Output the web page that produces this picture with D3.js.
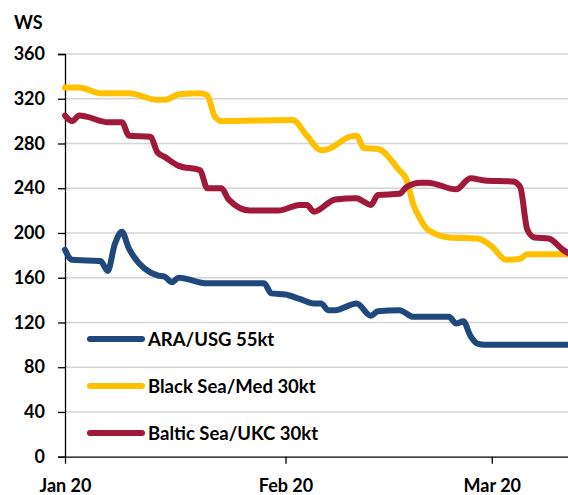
<!DOCTYPE html>
<html>
<head>
<meta charset="utf-8">
<script src="https://d3js.org/d3.v7.min.js"></script>
<style>
  body { margin: 0; background: #fff; }
  text { font-family: Lato, "Open Sans", sans-serif; fill: #000; }
</style>
</head>
<body>
<script>
// series names, in legend order
var seriesNames = ["ARA/USG 55kt", "Black Sea/Med 30kt", "Baltic Sea/UKC 30kt"];
var seriesColors = ["#1f497d", "#ffc000", "#a0193a"];

// ARA/USG 55kt
var araDates = ["2020-01-01","2020-01-02","2020-01-06","2020-01-07","2020-01-08","2020-01-09","2020-01-10",
  "2020-01-14","2020-01-15","2020-01-16","2020-01-17","2020-01-21","2020-01-29","2020-01-30","2020-02-01",
  "2020-02-03","2020-02-05","2020-02-06","2020-02-07","2020-02-08","2020-02-11","2020-02-13","2020-02-14",
  "2020-02-17","2020-02-19","2020-02-24","2020-02-25","2020-02-26","2020-02-27","2020-02-28","2020-02-29","2020-03-12"];
var araValues = [185, 176, 175, 166, 190, 201, 186,
  162, 161, 156, 160, 155, 155, 146, 145,
  141, 137, 137, 131, 131, 137, 126, 130,
  131, 125, 125, 119, 121, 108, 101, 100, 100];

// Black Sea/Med 30kt
var bsDates = ["2020-01-01","2020-01-03","2020-01-06","2020-01-10","2020-01-14","2020-01-15","2020-01-17",
  "2020-01-20","2020-01-21","2020-01-22","2020-01-23","2020-02-02","2020-02-04","2020-02-06","2020-02-07",
  "2020-02-10","2020-02-11","2020-02-12","2020-02-14","2020-02-17","2020-02-18","2020-02-19","2020-02-20",
  "2020-02-21","2020-02-24","2020-02-28","2020-03-01","2020-03-03","2020-03-05","2020-03-06","2020-03-12"];
var bsValues = [330, 330, 325, 325, 319, 319, 324,
  325, 323, 305, 300, 301, 287, 274, 275,
  286, 287, 276, 275, 256, 248, 225, 212,
  203, 196, 195, 188, 176, 177, 181, 181];

// Baltic Sea/UKC 30kt
var bltDates = ["2020-01-01","2020-01-02","2020-01-03","2020-01-04","2020-01-07","2020-01-09","2020-01-10",
  "2020-01-13","2020-01-14","2020-01-15","2020-01-17","2020-01-20","2020-01-21","2020-01-23","2020-01-24",
  "2020-01-27","2020-01-31","2020-02-03","2020-02-04","2020-02-05","2020-02-08","2020-02-11","2020-02-12",
  "2020-02-13","2020-02-14","2020-02-17","2020-02-18","2020-02-20","2020-02-21","2020-02-25","2020-02-27",
  "2020-02-29","2020-03-04","2020-03-05","2020-03-06","2020-03-07","2020-03-09","2020-03-11","2020-03-12"];
var bltValues = [305, 300, 305, 304, 299, 299, 287,
  286, 272, 268, 260, 256, 240, 240, 230,
  220, 220, 225, 225, 219, 230, 231, 228,
  225, 234, 235, 241, 245, 245, 239, 249,
  247, 246, 241, 203, 196, 195, 185, 181];

var yTicks = [0, 40, 80, 120, 160, 200, 240, 280, 320, 360];
var xTicks = ["2020-01-01", "2020-02-01", "2020-03-01"];

var width = 568, height = 495;
var margin = {top: 54, right: 0, bottom: 38, left: 65};

var parse = d3.timeParse("%Y-%m-%d");

var series = [
  {name: seriesNames[0], color: seriesColors[0], dates: araDates, values: araValues},
  {name: seriesNames[1], color: seriesColors[1], dates: bsDates, values: bsValues},
  {name: seriesNames[2], color: seriesColors[2], dates: bltDates, values: bltValues}
];
series.forEach(function(s) {
  s.points = s.dates.map(function(d, i) { return {date: parse(d), value: s.values[i]}; });
});

var svg = d3.select("body").append("svg")
    .attr("width", width)
    .attr("height", height);

var x = d3.scaleTime()
    .domain([parse("2020-01-01"), parse("2020-03-12")])
    .range([margin.left, 570]);
var y = d3.scaleLinear()
    .domain([0, 360])
    .range([height - margin.bottom - 0.3, margin.top]);

// gridlines
svg.append("g")
  .selectAll("line")
  .data(yTicks.slice(1))
  .enter().append("line")
    .attr("x1", margin.left)
    .attr("x2", width)
    .attr("y1", function(d) { return y(d); })
    .attr("y2", function(d) { return y(d); })
    .attr("stroke", "#d4d4d4")
    .attr("stroke-width", 1.5);

// y axis
var yAxis = svg.append("g")
    .attr("transform", "translate(" + margin.left + ",0)")
    .call(d3.axisLeft(y).tickValues(yTicks).tickSize(7).tickPadding(13));
yAxis.select(".domain").attr("stroke", "#000").attr("stroke-width", 1.3);
yAxis.selectAll(".tick line").attr("stroke", "#000").attr("stroke-width", 1.3);
yAxis.selectAll("text")
    .style("font-family", "Lato")
    .style("font-size", "18px")
    .style("font-weight", "bold")
    .attr("fill", "#000");

// x axis
var xAxis = svg.append("g")
    .attr("transform", "translate(0," + y(0) + ")")
    .call(d3.axisBottom(x).tickValues(xTicks.map(parse))
      .tickFormat(d3.timeFormat("%b %y")).tickSize(7).tickSizeOuter(0).tickPadding(16));
xAxis.select(".domain").attr("stroke", "#000").attr("stroke-width", 1.3);
xAxis.selectAll(".tick line").attr("stroke", "#000").attr("stroke-width", 1.3);
xAxis.selectAll("text")
    .style("font-family", "Lato")
    .style("font-size", "18px")
    .style("font-weight", "bold")
    .attr("fill", "#000");

// unit label
svg.append("text")
    .attr("x", 14)
    .attr("y", 29)
    .style("font-family", "Lato")
    .style("font-size", "18px")
    .style("font-weight", "bold")
    .text("WS");

// lines
var line = d3.line()
    .curve(d3.curveMonotoneX)
    .x(function(d) { return x(d.date); })
    .y(function(d) { return y(d.value); });

svg.append("g")
  .selectAll("path")
  .data(series)
  .enter().append("path")
    .attr("d", function(d) { return line(d.points); })
    .attr("fill", "none")
    .attr("stroke", function(d) { return d.color; })
    .attr("stroke-width", 6)
    .attr("stroke-linejoin", "round")
    .attr("stroke-linecap", "round");

// legend
var legend = svg.append("g")
  .selectAll("g")
  .data(series)
  .enter().append("g")
    .attr("transform", function(d, i) { return "translate(0," + (339 + i * 47) + ")"; });

legend.append("line")
    .attr("x1", 90)
    .attr("x2", 142)
    .attr("stroke", function(d) { return d.color; })
    .attr("stroke-width", 6)
    .attr("stroke-linecap", "round");

legend.append("text")
    .attr("x", 148)
    .attr("y", 7)
    .style("font-family", "Lato")
    .style("font-size", "18.5px")
    .style("font-weight", "bold")
    .text(function(d) { return d.name; });
</script>
</body>
</html>
